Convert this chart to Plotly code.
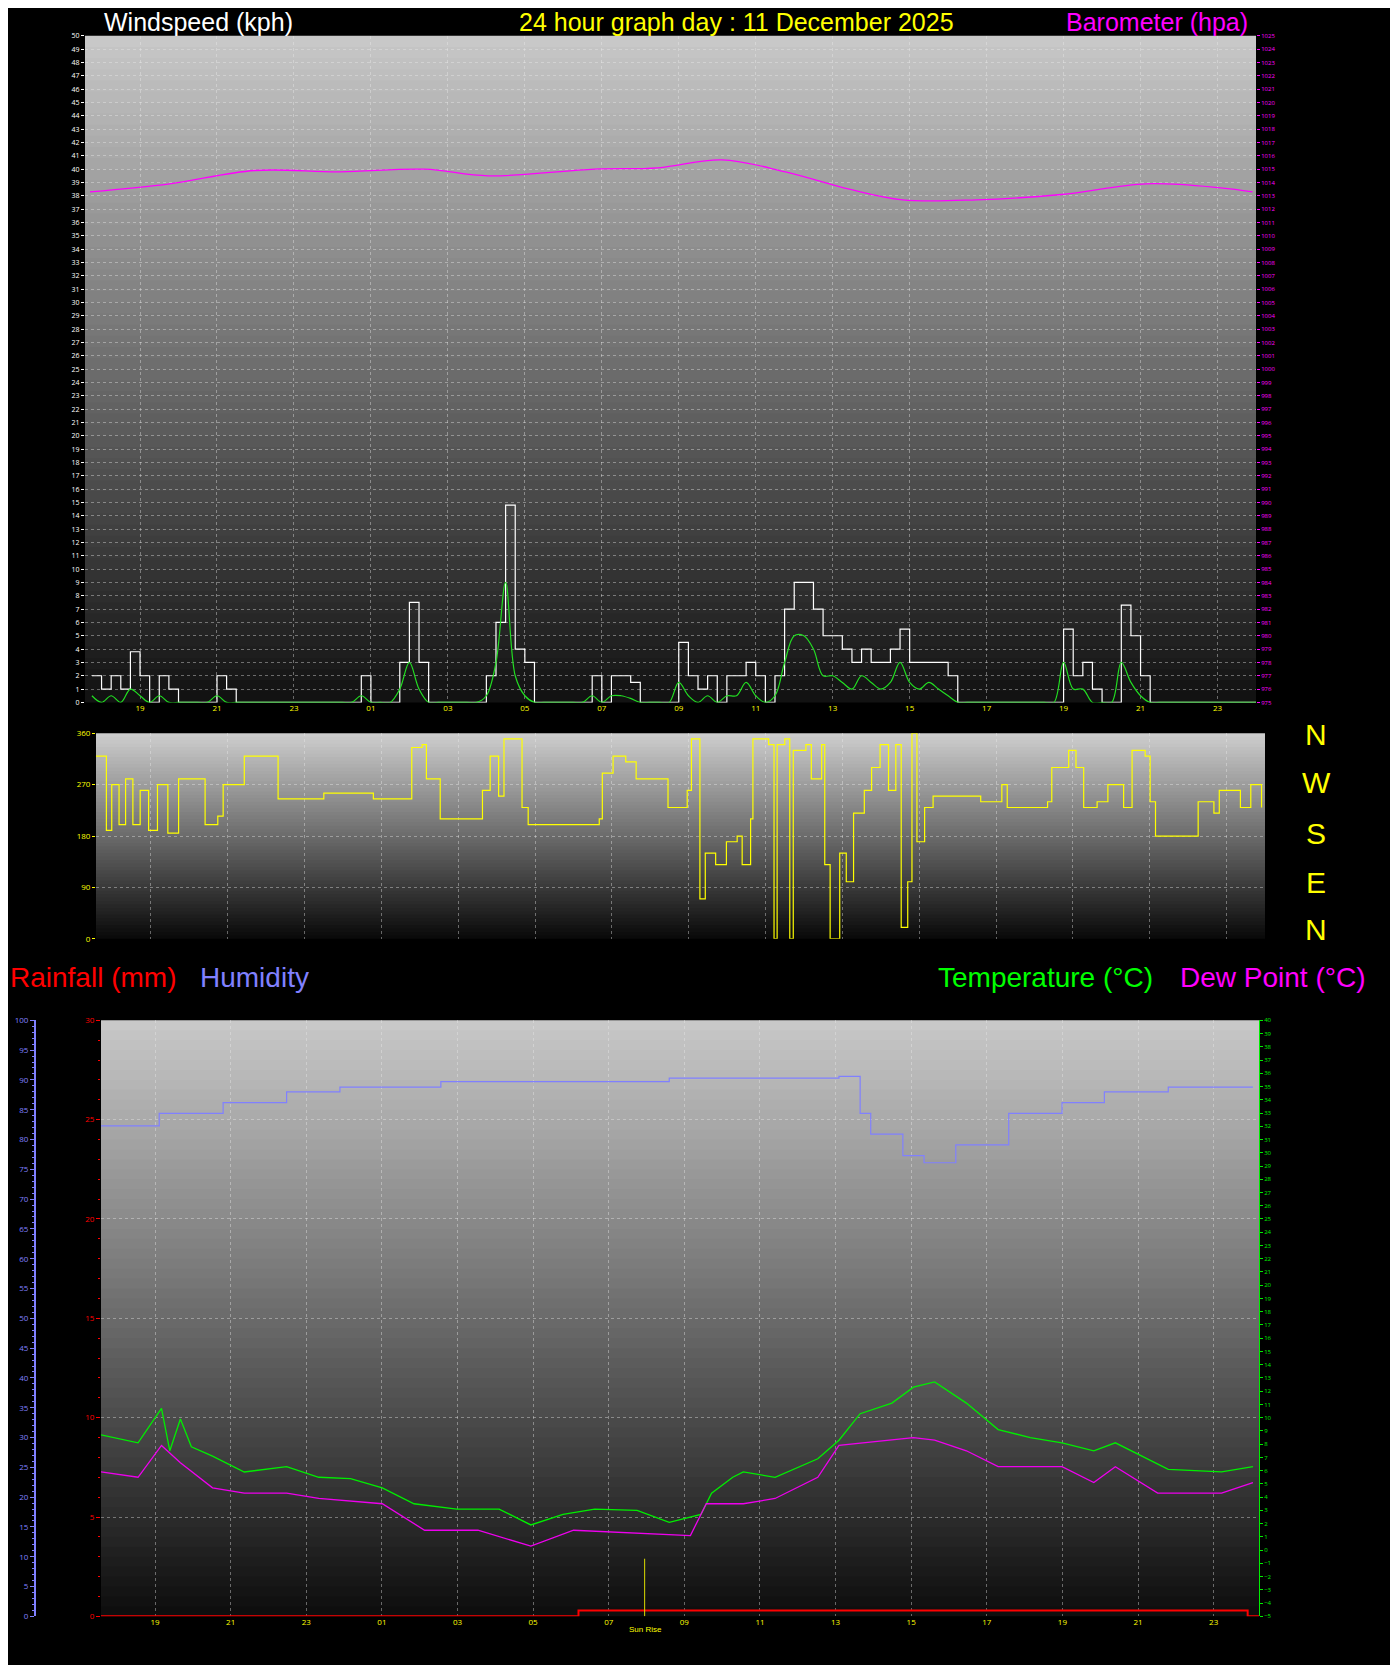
import plotly.graph_objects as go

W, H = 1398, 1665
# ---------------- data ----------------
wind_t = [17.75 + 0.25 * i for i in range(122)]
gust = [2,1,2,1,3.8,2,0,2,1,0,0,0,0,2,1,0,0,0,0,0,0,0,0,0,0,0,0,0,2,0,0,0,3,7.5,3,0,0,0,0,0,0,
        2,6,14.8,4,3,0,0,0,0,0,0,2,0,2,2,1.5,0,0,0,0,4.5,2,1,2,0,2,2,3,2,0,2,7,9,9,7,5,5,4,3,4,3,3,4,5.5,
        3,3,3,3,2,0,0,0,0,0,0,0,0,0,0,0,5.5,2,3,1,0,0,7.3,5,2,0,0,0,0,0,0,0,0,0,0,0,0]
avg = [0.5,0,0.5,0,1,0.5,0,0.5,0,0,0,0,0,0.5,0,0,0,0,0,0,0,0,0,0,0,0,0,0,0.5,0,0,0,1,3,1,0,0,0,0,0,0,
       0.5,3,9,2,0.5,0,0,0,0,0,0,0.5,0,0.5,0.5,0.3,0,0,0,0,1.5,0.5,0,0.5,0,0.5,0.5,1.5,0.5,0,0.5,3,5,5,4,2,2,1.5,1,2,1.5,1,1.5,3,
       1.5,1,1.5,1,0.5,0,0,0,0,0,0,0,0,0,0,0,3,1,1,0,0,0,3,1.5,0.5,0,0,0,0,0,0,0,0,0,0,0,0]
baro_t = [17.70,19.77,21.98,24.19,26.39,28.05,30.81,32.46,34.12,35.77,37.43,38.81,40.74,42.94,45.15,47.08,47.91]
baro = [1013.3,1013.9,1014.9,1014.8,1015.0,1014.5,1015.0,1015.1,1015.7,1014.8,1013.5,1012.7,1012.7,1013.1,1013.9,1013.6,1013.3]

dir_t = [17.57,17.84,17.98,18.17,18.34,18.53,18.72,18.94,19.17,19.44,19.72,20.32,20.41,20.74,20.88,21.37,21.43,22.26,22.31,
         23.36,23.50,24.74,24.79,25.70,25.79,26.06,26.17,26.45,26.53,27.55,27.63,27.83,28.05,28.19,28.54,28.66,28.82,30.67,
         30.75,31.03,31.36,31.63,32.41,32.46,32.96,33.07,33.23,33.29,33.43,33.70,33.98,34.26,34.39,34.61,34.67,35.08,35.22,
         35.30,35.50,35.63,35.72,36.05,36.19,36.46,36.54,36.68,36.82,36.93,37.10,37.29,37.57,37.76,37.98,38.20,38.39,38.53,
         38.70,38.81,38.94,39.14,39.36,40.46,40.60,41.15,41.29,42.34,42.45,42.89,43.08,43.28,43.63,43.91,44.32,44.54,44.88,
         45.01,45.15,46.12,46.26,46.67,46.81,47.36,47.63,47.91]
dir_v = [320,190,270,200,280,200,260,190,270,185,280,280,200,215,270,270,320,320,245,245,255,255,245,245,335,340,280,280,
         210,210,260,320,250,350,350,230,200,210,290,320,310,280,280,230,260,350,350,70,150,130,170,180,130,210,350,340,0,
         340,350,0,330,340,280,340,130,0,0,150,100,220,260,300,340,260,340,20,100,360,170,230,250,250,240,270,230,240,300,
         330,300,230,240,270,230,330,320,240,180,180,240,220,260,230,270,230]

hum_t = [17.57,19.11,20.80,22.48,23.89,26.56,32.60,37.09,37.65,37.93,38.78,39.34,40.18,41.58,42.99,44.11,45.80,48.04]
hum = [82.3,84.4,86.2,88.0,88.8,89.7,90.3,90.6,84.4,80.9,77.3,76.1,79.1,84.4,86.2,88.0,88.8,88.8]
temp_t = [17.57,18.55,19.17,19.39,19.67,19.96,20.52,21.36,22.48,23.33,24.17,25.01,25.85,26.98,28.10,28.94,29.79,30.63,
          31.75,32.60,33.44,33.72,34.28,34.56,35.40,36.53,37.09,37.65,38.49,39.06,39.62,40.46,41.30,42.15,42.99,43.83,
          44.40,45.24,45.80,47.21,48.04]
temp = [8.7,8.1,10.7,7.5,9.9,7.8,7.1,5.9,6.3,5.5,5.4,4.7,3.5,3.1,3.1,1.9,2.7,3.1,3.0,2.1,2.7,4.3,5.5,5.9,5.5,6.9,8.3,
        10.3,11.1,12.3,12.7,11.1,9.1,8.5,8.1,7.5,8.1,6.9,6.1,5.9,6.3]
dew_t = [17.57,18.55,19.17,19.67,20.52,21.36,22.48,23.33,25.01,26.13,27.54,28.94,30.07,31.75,33.16,33.58,34.56,35.40,
         36.53,37.09,39.06,39.62,40.46,41.30,42.99,43.83,44.40,45.52,47.21,48.04]
dew = [5.9,5.5,7.9,6.6,4.7,4.3,4.3,3.9,3.5,1.5,1.5,0.3,1.5,1.3,1.1,3.5,3.5,3.9,5.5,7.9,8.5,8.3,7.5,6.3,6.3,5.1,6.3,
       4.3,4.3,5.1]
rain_t = [17.57, 30.2, 47.9, 48.2]
rain = [0, 0.3, 0, 0]
sunrise_t = 31.95
sunrise_h = 2.9

hour_vals = list(range(19, 48, 2))
hour_text = ["19", "21", "23", "01", "03", "05", "07", "09", "11", "13", "15", "17", "19", "21", "23"]

# ---------------- figure ----------------
OFF = 8  # page body margin
def py(px):
    return 1 - (px - OFF) / H

def pxx(px):
    return (px - OFF) / W

top_x = [pxx(85), pxx(1256)]
top_y = [py(701), py(30)]
dir_x = [pxx(96), pxx(1265)]
dir_y = [py(939), py(732)]
bot_x = [pxx(101), pxx(1259)]
bot_y = [py(1621), py(1021)]

fig = go.Figure()
fig.add_trace(go.Scatter(x=wind_t, y=gust, mode="lines", line=dict(color="white", width=1.2, shape="hv"),
                         xaxis="x", yaxis="y"))
fig.add_trace(go.Scatter(x=wind_t, y=avg, mode="lines", line=dict(color="#22dd22", width=1.2, shape="spline"),
                         xaxis="x", yaxis="y"))
fig.add_trace(go.Scatter(x=baro_t, y=baro, mode="lines", line=dict(color="#ff00ff", width=1.3, shape="spline"),
                         xaxis="x", yaxis="y2"))
fig.add_trace(go.Scatter(x=dir_t, y=dir_v, mode="lines", line=dict(color="#ffff00", width=1.2, shape="hv"),
                         xaxis="x3", yaxis="y3"))
fig.add_trace(go.Scatter(x=hum_t, y=hum, mode="lines", line=dict(color="#8080ff", width=1.2, shape="hv"),
                         xaxis="x4", yaxis="y5"))
fig.add_trace(go.Scatter(x=temp_t, y=temp, mode="lines", line=dict(color="#00ee00", width=1.3),
                         xaxis="x4", yaxis="y6"))
fig.add_trace(go.Scatter(x=dew_t, y=dew, mode="lines", line=dict(color="#ee00ee", width=1.3),
                         xaxis="x4", yaxis="y6"))
fig.add_trace(go.Scatter(x=rain_t, y=rain, mode="lines", line=dict(color="#ff0000", width=2, shape="hv"),
                         xaxis="x4", yaxis="y4"))
fig.add_trace(go.Scatter(x=[sunrise_t, sunrise_t], y=[0, sunrise_h], mode="lines",
                         line=dict(color="#dddd00", width=1), xaxis="x4", yaxis="y4"))

grid = dict(showgrid=True, gridcolor="rgba(235,235,235,0.4)", griddash="dot", gridwidth=1, zeroline=False)

fig.update_layout(
    width=W, height=H, margin=dict(l=0, r=0, t=0, b=0),
    paper_bgcolor="black", plot_bgcolor="rgba(0,0,0,0)", showlegend=False,
    xaxis=dict(domain=top_x, anchor="y", range=[17.57, 48.0], tickvals=hour_vals, ticktext=hour_text,
               tickfont=dict(size=8, color="#ffff00"), ticks="", **grid),
    yaxis=dict(domain=top_y, anchor="x", range=[0, 50], dtick=1, tickfont=dict(size=7, color="white"),
               ticks="outside", ticklen=3, tickcolor="white", **grid),
    yaxis2=dict(overlaying="y", side="right", anchor="x", range=[975, 1025], dtick=1,
                tickfont=dict(size=6, color="#ff00ff"), showgrid=False, ticks="outside", ticklen=3,
                tickcolor="#ff00ff", zeroline=False),
    xaxis3=dict(domain=dir_x, anchor="y3", range=[17.57, 48.0], showticklabels=False, tickvals=hour_vals, **grid),
    yaxis3=dict(domain=dir_y, anchor="x3", range=[0, 360], tickvals=[0, 90, 180, 270, 360],
                tickfont=dict(size=8, color="#ffff00"), ticks="outside", ticklen=3, tickcolor="#ffff00", **grid),
    xaxis4=dict(domain=bot_x, anchor="y4", range=[17.57, 48.2], tickvals=hour_vals, ticktext=hour_text,
                tickfont=dict(size=8, color="#ffff00"), ticks="", **grid),
    yaxis4=dict(domain=bot_y, anchor="x4", range=[0, 30], dtick=5, tickfont=dict(size=8, color="red"),
                ticks="outside", ticklen=4, tickcolor="red", minor=dict(dtick=1, ticks="outside", ticklen=2,
                tickcolor="red"), **grid),
    yaxis5=dict(overlaying="y4", anchor="free", position=pxx(35), side="left", range=[0, 100], dtick=5,
                tickfont=dict(size=8, color="#8080ff"), ticks="outside", ticklen=4, tickcolor="#8080ff",
                showline=True, linecolor="#8080ff", linewidth=2, showgrid=False, zeroline=False,
                minor=dict(dtick=1, ticks="outside", ticklen=2, tickcolor="#8080ff")),
    yaxis6=dict(overlaying="y4", anchor="x4", side="right", range=[-5, 40], dtick=1,
                tickfont=dict(size=6, color="#00ee00"), ticks="outside", ticklen=3, tickcolor="#00ee00",
                showline=True, linecolor="#00ee00", showgrid=False, zeroline=False),
)

shapes = []
def gradient(xd, yd, top, bot, n=60):
    hgt = yd[1] - yd[0]
    for i in range(n):
        f = i / (n - 1)
        c = int(top + (bot - top) * f)
        y1 = yd[1] - hgt * i / n
        y0 = max(yd[0], yd[1] - hgt * (i + 1.6) / n)
        shapes.append(dict(type="rect", xref="paper", yref="paper", x0=xd[0], x1=xd[1], y0=y0, y1=y1,
                           fillcolor=f"rgb({c},{c},{c})", line=dict(width=0), layer="below"))
gradient(top_x, top_y, 200, 18)
gradient(dir_x, dir_y, 205, 10)
gradient(bot_x, bot_y, 200, 14)
fig.update_layout(shapes=shapes)

ann = []
def txt(x, y, s, color, size=27, xa="left"):
    ann.append(dict(x=pxx(x), y=py(y), xref="paper", yref="paper", text=s, showarrow=False,
                    font=dict(color=color, size=size, family="Liberation Sans"), xanchor=xa, yanchor="middle"))
txt(102, 16, "Windspeed (kph)", "white", size=25)
txt(517, 16, "24 hour graph day : 11 December 2025", "#ffff00", size=25)
txt(1250, 16, "Barometer (hpa)", "#ff00ff", size=25, xa="right")
txt(8, 978, "Rainfall (mm)", "#ff0000", size=28)
txt(198, 978, "Humidity", "#8080ff", size=28)
txt(936, 978, "Temperature (°C)", "#00ff00", size=28)
txt(1178, 978, "Dew Point (°C)", "#ff00ff", size=28)
for s, y in [("N", 733), ("W", 782), ("S", 833), ("E", 882), ("N", 930)]:
    txt(1316, y, s, "#ffff00", size=30, xa="center")
txt(645, 1634, "Sun Rise", "#ffff00", size=8, xa="center")
fig.update_layout(annotations=ann)

fig.write_html("out.html")
